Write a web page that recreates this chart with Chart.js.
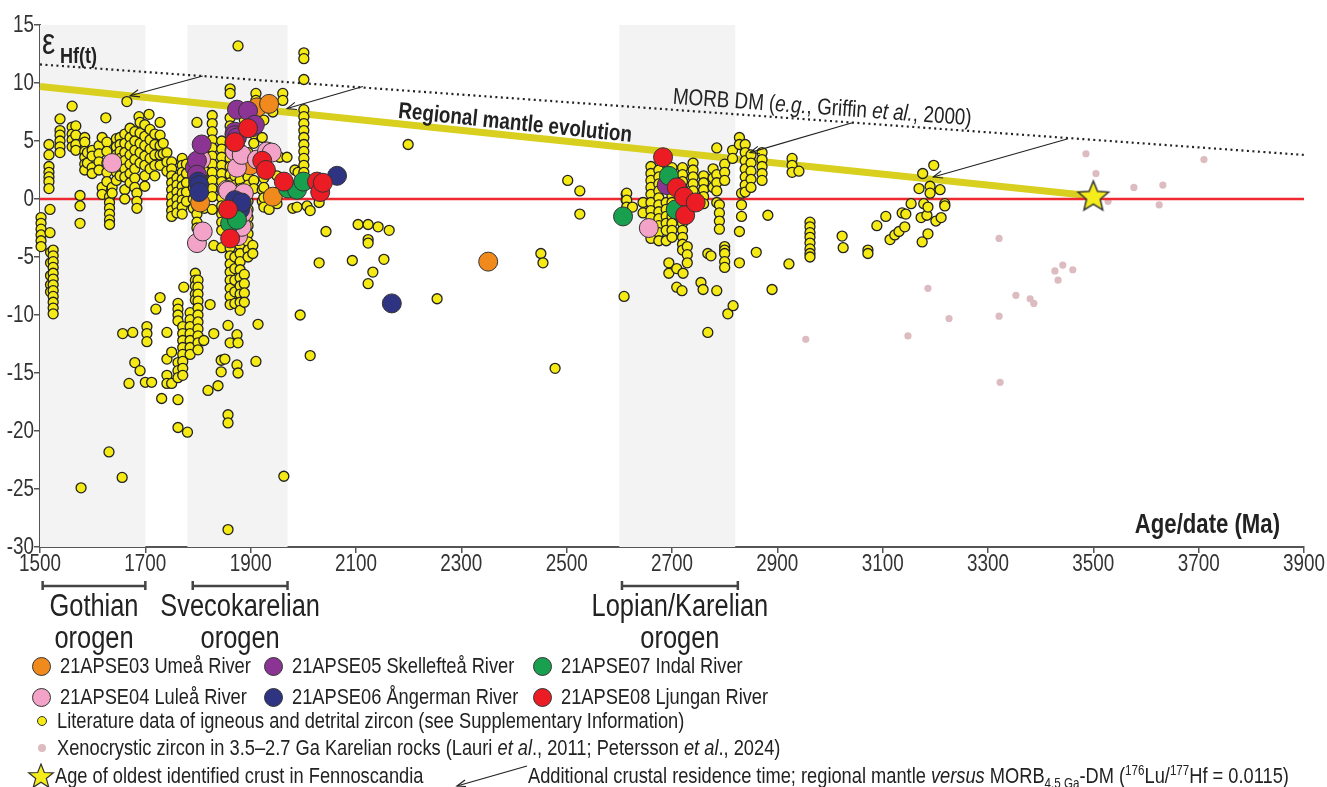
<!DOCTYPE html>
<html>
<head>
<meta charset="utf-8">
<script src="https://cdn.jsdelivr.net/npm/chart.js@4.4.1/dist/chart.umd.min.js"></script>
<style>
  html, body { margin: 0; padding: 0; background: #fff; }
  #wrap { position: relative; width: 1327px; height: 787px; overflow: hidden;
          font-family: "Liberation Sans", Arial, sans-serif; color: #222; }
  #chart { position: absolute; left: 0; top: 0; }
  .leg { position: absolute; font-size: 22px; line-height: 24px; white-space: nowrap;
         transform: scaleX(0.83); transform-origin: 0 50%; }
  .dot { position: absolute; border-radius: 50%; border: 1px solid #333; box-sizing: border-box; }
  sub, sup { font-size: 14px; line-height: 0; }
</style>
</head>
<body>
<div id="wrap">
  <canvas id="chart" width="1327" height="787"></canvas>

  <span class="dot" style="left:32px;top:657px;width:19px;height:19px;background:#f08a1c"></span>
  <div class="leg" style="left:60px;top:654px">21APSE03 Umeå River</div>
  <span class="dot" style="left:264px;top:657px;width:19px;height:19px;background:#8c3494"></span>
  <div class="leg" style="left:292px;top:654px">21APSE05 Skellefteå River</div>
  <span class="dot" style="left:533px;top:657px;width:19px;height:19px;background:#18a04f"></span>
  <div class="leg" style="left:561px;top:654px">21APSE07 Indal River</div>

  <span class="dot" style="left:32px;top:688px;width:19px;height:19px;background:#f4a3c8"></span>
  <div class="leg" style="left:60px;top:685px">21APSE04 Luleå River</div>
  <span class="dot" style="left:264px;top:688px;width:19px;height:19px;background:#2e3382"></span>
  <div class="leg" style="left:292px;top:685px">21APSE06 Ångerman River</div>
  <span class="dot" style="left:533px;top:688px;width:19px;height:19px;background:#ec1c24"></span>
  <div class="leg" style="left:561px;top:685px">21APSE08 Ljungan River</div>

  <span class="dot" style="left:37px;top:716px;width:10px;height:10px;background:#f5ea14"></span>
  <div class="leg" style="left:57px;top:709px">Literature data of igneous and detrital zircon (see Supplementary Information)</div>

  <span class="dot" style="left:38px;top:744px;width:8px;height:8px;background:#dcbcc0;border:none"></span>
  <div class="leg" style="left:57px;top:736px">Xenocrystic zircon in 3.5–2.7 Ga Karelian rocks (Lauri <i>et al</i>., 2011; Petersson <i>et al</i>., 2024)</div>

  <svg style="position:absolute;left:27px;top:763px" width="28" height="26" viewBox="0 0 28 26">
    <polygon points="14,1 17.3,9.5 26.4,9.8 19.3,15.5 21.8,24.3 14,19.2 6.2,24.3 8.7,15.5 1.6,9.8 10.7,9.5"
             fill="#f5ec1c" stroke="#333" stroke-width="1.2"/>
  </svg>
  <div class="leg" style="left:55px;top:764px">Age of oldest identified crust in Fennoscandia</div>
  <svg style="position:absolute;left:450px;top:760px" width="82" height="30">
    <line x1="77" y1="6" x2="7" y2="26" stroke="#222" stroke-width="1.2"/>
    <polyline points="15,20 7,26 16,26.5" fill="none" stroke="#222" stroke-width="1.2"/>
  </svg>
  <div class="leg" style="left:528px;top:764px">Additional crustal residence time; regional mantle <i>versus</i> MORB<sub>4.5 Ga</sub>-DM (<sup>176</sup>Lu/<sup>177</sup>Hf = 0.0115)</div>
</div>

<script>
const FONT = '"Liberation Sans", Arial, sans-serif';
const NARROW = 0.82;

// literature zircon data: each row is [age (Ma), eHf values read at that age...]
const literature = [
  [1502, -1.6, -2.1, -2.6, -3.1, -3.6, -4.1],
  [1517, 4.7, 3.8, 2.8, 2.3, 1.9, 1.5, 0.9],
  [1519, -0.9, -2.9],
  [1520, -4.6, -5.5, -6.6, -7.4, -8.0],
  [1525, -4.4, -4.9, -5.4, -5.9, -6.4, -6.9, -7.4, -7.9, -8.4, -8.9, -9.4, -9.9],
  [1538, 6.9, 5.9, 5.5, 5.0, 4.5, 4.0],
  [1561, 8.0, 6.2, 5.6, 5.1, 4.5],
  [1568, 6.3, 5.5, 4.7, 4.2],
  [1576, 0.3, -0.6, -2.1],
  [1578, -24.9],
  [1585, 5.3, 4.9, 4.1, 3.6, 3.0, 2.5],
  [1590, 4.0, 3.1],
  [1599, 4.2, 3.7, 2.7, 2.2],
  [1612, 4.6, 3.9, 3.2, 2.5],
  [1618, 5.3, 1.0, 0.4],
  [1625, 7.0],
  [1627, 4.9, 4.1, 3.1, 2.3, 1.5],
  [1631, -21.8],
  [1632, 0.2, -0.3, -0.8, -1.3, -1.8, -2.2],
  [1637, 1.0, 0.5],
  [1645, 5.2, 4.5, 3.8, 3.0, 2.3, 1.6],
  [1652, 5.3, 4.7, 4.1, 3.5, 2.9, 2.0],
  [1656, -24.0],
  [1657, -11.6],
  [1661, 5.6, 4.8, 4.0, 3.3, 2.6, 1.9, 0.8, 0.0],
  [1665, 8.4],
  [1669, -15.9],
  [1671, 6.1, 5.3, 4.6, 3.8, 3.0, 2.2, 1.4],
  [1676, -11.5],
  [1680, 5.8, 5.0, 4.2, 3.4, 2.6, 1.8, 1.0, -14.1],
  [1684, 0.5, -0.2, -0.8],
  [1688, 7.1],
  [1690, 6.6, 5.7, 4.8, 4.0, 3.1, -14.8],
  [1699, 6.4, 5.4, 4.6, 3.7, 2.9, 2.0, 1.1],
  [1700, -15.8],
  [1703, -11.0, -11.6, -12.3],
  [1707, 7.3],
  [1709, 6.0, 5.1, 4.3, 3.5, 2.6],
  [1712, -15.8],
  [1718, 5.6, 4.7, 3.8, 2.9, 2.0],
  [1720, -9.5],
  [1728, 6.6, 5.5, 4.6, 3.8, 2.9, -8.5],
  [1731, -17.2],
  [1734, 4.8, 3.9],
  [1741, 4.0, 3.2, 2.4, -11.5, -13.8, -15.2, -15.9],
  [1750, 3.2, 2.6, 2.0, 1.4, 0.8, 0.2, -0.4, -1.0, -1.5, -13.2, -15.9],
  [1760, 1.8, 1.2, 0.6, 0.0, -0.6, -1.2],
  [1762, -9.0, -9.5, -10.0, -10.5, -14.1, -14.8, -15.4, -17.3, -19.7],
  [1770, 3.5, 2.9, 2.3, 1.7, 1.1, 0.5, -0.1, -0.7, -1.3],
  [1771, -11.0, -11.6, -12.2, -12.8, -13.4, -14.0, -14.6, -15.2],
  [1773, -7.6],
  [1778, 3.0, 2.2, 1.4, 0.6, -0.2],
  [1780, -20.1],
  [1785, -9.8, -10.4, -11.0, -11.6, -12.2, -12.8, -13.4],
  [1791, 3.0, 2.0, 1.0, 0.0, -0.8],
  [1795, -6.4, -7.0, -7.5, -8.2, -8.7],
  [1798, 6.6, 3.6, 2.9, 2.2, 1.5, 0.8, 0.1, -0.6, -1.3, -2.0, -2.5],
  [1800, -7.0, -7.6, -8.2, -8.8, -9.4, -10.0, -10.6, -11.2, -11.8, -12.4, -13.0],
  [1811, -12.2],
  [1812, 4.0, 3.2, 2.4, 1.6, 0.8, 0.0, -0.8],
  [1819, -16.5],
  [1823, -9.1],
  [1827, 7.2, 6.5, 5.8, 5.1, 4.4, 3.7, 3.0, 2.3, 1.6, 0.9, 0.2, -0.9],
  [1830, -4.0, -11.6],
  [1838, -16.1],
  [1844, -13.9, -14.9],
  [1845, 5.0, 4.3, 3.6, 2.9, 2.2, 1.5, 0.8, 0.1, -0.6, -1.3, -2.0, -2.7, -4.2],
  [1851, -13.8],
  [1857, -10.9, -18.6, -19.3, -28.5],
  [1861, 9.5, 9.1, 7.0, 6.3, 5.6, 4.9, 4.2, 3.5, 2.8, 2.1, 1.4, 0.7, 0.0, -0.7, -1.4, -2.1, -2.8, -3.5,
         -4.2, -4.9, -5.6, -6.3, -7.0, -7.7, -8.4, -9.1, -12.4],
  [1870, 8.0, 2.0, 1.2, 0.4, -0.4, -5.0, -6.0, -7.0, -8.0, -9.0],
  [1874, -11.7, -14.3],
  [1876, 13.2, -12.4, -15.0],
  [1880, 5.8, 5.1, 4.4, 3.7, 3.0, 2.3, 1.6, 0.9, 0.2, -0.5, -1.2, -1.9, -2.6, -3.3, -4.0, -4.7, -5.4,
         -6.1, -6.8, -7.5, -8.2, -8.9, -9.6],
  [1888, 6.8, 1.0, 0.2, -0.6, -1.4, -2.2, -3.0, -6.5, -7.3, -8.1, -8.9],
  [1895, 4.0, 3.3, 2.6, 1.9, 1.2, 0.5, -0.2, -0.9, -1.6, -2.3, -3.0, -3.7, -4.4, -5.0],
  [1904, -4.0, -4.7],
  [1906, 5.6, 4.8, 1.6, 0.9],
  [1910, 9.1, 8.5, -14.0],
  [1914, -10.8],
  [1922, 5.3, 0.8, -0.2],
  [1925, 6.8, 1.8, 1.0, 0.1, -0.7],
  [1935, 0.2, -0.9],
  [1942, 7.5],
  [1950, 2.0, 0.6, -0.4],
  [1955, 3.6],
  [1961, 9.1, 8.5],
  [1963, -23.9],
  [1969, 3.6],
  [1980, -0.8],
  [1984, 2.5],
  [1988, -0.7],
  [1990, 2.3],
  [1994, -10.0],
  [2001, 12.6, 12.1, 10.3, 7.7, 7.1, 6.5, 5.9, 5.3, 4.7, 4.1, 3.5, 2.9, 2.3],
  [2007, -0.6],
  [2013, -1.0, -13.5],
  [2030, -0.3, -5.5],
  [2043, -2.8],
  [2093, -5.3],
  [2104, -2.2],
  [2123, -2.2, -3.5, -3.8, -7.3],
  [2132, -6.3],
  [2142, -2.4],
  [2153, -5.2],
  [2163, -2.7],
  [2199, 4.7],
  [2254, -8.6],
  [2451, -4.7],
  [2455, -5.5],
  [2478, -14.6],
  [2502, 1.6],
  [2525, 0.7, -1.3],
  [2609, -8.4],
  [2613, 0.4, -0.1],
  [2614, 0.5, -0.1, -0.7, -1.4],
  [2625, -0.7],
  [2645, -0.3, -1.2],
  [2660, 2.8, 2.2, 1.6, 1.0, 0.4, -0.3, -1.0, -1.6, -2.2, -2.8, -3.4],
  [2675, 2.5, 1.9, 1.3, 0.7, 0.1, -0.5, -1.1, -1.7, -2.3, -2.9, -3.6],
  [2689, 1.5, 0.9, -0.3, -0.9, -1.5, -2.1, -2.7, -3.6],
  [2694, -5.5, -6.4],
  [2700, 2.7, 2.1, 1.5, 0.9, 0.3, -0.3, -0.9, -1.5, -2.1, -2.7, -3.3],
  [2709, -6.0, -7.6],
  [2719, -7.9],
  [2720, 2.7, 2.1, 1.5, 0.9, 0.3, -0.3, -0.9, -1.5, -2.1, -2.7, -3.3, -3.9, -4.4],
  [2721, -6.4],
  [2729, -4.1, -4.8, -5.5],
  [2740, 3.1, 2.5, 1.9, 1.3, 0.7],
  [2755, -7.2],
  [2759, -7.8],
  [2760, 2.0, 1.4, 0.8, 0.2, -0.4],
  [2768, -4.7, -11.5],
  [2774, -4.9],
  [2778, 2.6, 1.8, 1.0],
  [2785, 4.4, 2.1, 1.4, 0.7, -0.3, -7.9],
  [2790, -0.5, -1.2, -1.9, -2.6],
  [2800, 3.0, 2.3, 1.6, -4.1, -4.4, -4.7, -5.4, -5.9],
  [2806, -9.9],
  [2815, 4.2, 3.5],
  [2816, -9.2],
  [2828, 5.3, 4.7, -2.8, -5.5],
  [2832, 0.5, -0.5, -1.5],
  [2839, 4.7, 4.0, 3.3, 2.6, 1.9, 1.2, 0.6],
  [2850, 3.8, 3.1, 2.4, 1.7, 1.0],
  [2860, -4.6],
  [2871, 4.0, 3.4, 2.8, 2.2, 1.6],
  [2882, -1.4],
  [2890, -7.8],
  [2922, -5.6],
  [2928, 3.5, 2.9, 2.3],
  [2941, 2.4],
  [2962, -2.0, -2.4, -2.9, -3.3, -3.8, -4.3, -4.7, -5.0],
  [3023, -3.2],
  [3025, -4.2],
  [3072, -4.4, -4.7],
  [3089, -2.3],
  [3106, -1.5],
  [3114, -3.5],
  [3123, -3.1],
  [3131, -2.8],
  [3137, -1.2],
  [3142, -2.4],
  [3144, -1.3],
  [3154, -0.4],
  [3169, 0.9],
  [3173, -1.6],
  [3175, -3.7],
  [3176, 2.2],
  [3178, -0.4],
  [3184, -1.4],
  [3186, -0.7, -3.0],
  [3190, 1.1, 0.5],
  [3197, 2.9],
  [3201, -1.9],
  [3209, 0.8],
  [3211, -1.6],
  [3218, -0.4, -0.6]
];

const xenocrystic = [
  [2954, -12.1], [3148, -11.8], [3186, -7.7], [3226, -10.3], [3321, -3.4], [3321, -10.1], [3323, -15.8],
  [3353, -8.3], [3380, -8.6], [3387, -9.0], [3427, -6.2], [3433, -7.0], [3442, -5.7], [3461, -6.1],
  [3486, 3.9], [3505, 2.2], [3528, -0.2], [3577, 1.0], [3625, -0.5], [3632, 1.2], [3710, 3.4]
];

const umea = [[1804, -0.3], [1899, 2.9], [1912, 7.9], [1935, 8.2], [1942, 0.2], [2351, -5.4]];
const lulea = [[1637, 3.1], [1798, -3.8], [1806, 3.4], [1809, -2.8], [1855, 0.8], [1857, 0.7], [1870, 4.1],
  [1874, 2.7], [1876, -3.2], [1883, 3.8], [1883, -2.4], [1885, -1.2], [1887, 0.5], [1912, 3.4],
  [1931, 4.1], [1940, 4.0], [2656, -2.5]];
const skelleftea = [[1794, 2.7], [1798, 3.3], [1798, 2.1], [1807, 4.7], [1870, 5.8], [1870, 5.5], [1874, 7.7],
  [1874, 5.3], [1895, 7.6], [1904, 6.2], [1908, 6.4], [2690, 1.2]];
const angerman = [[1800, 1.5], [1802, 1.2], [1802, 0.6], [1870, -0.1], [1880, -0.9], [1883, -0.3],
  [2064, 2.0], [2168, -9.0]];
const indal = [[1861, -2.1], [1874, -1.8], [1971, 0.9], [1988, 0.8], [2000, 1.5], [2607, -1.5],
  [2694, 2.0], [2707, -0.9]];
const ljungan = [[1857, -0.9], [1861, -3.4], [1870, 4.9], [1895, 6.1], [1922, 3.3], [1929, 2.5], [1963, 1.5],
  [2026, 1.5], [2032, 0.6], [2037, 1.4], [2683, 3.6], [2709, 1.0], [2723, 0.2], [2725, -1.4], [2745, -0.3]];

const oldestCrust = [[3500, 0.3]];
const regionalMantle = [[1500, 9.7], [3490, 0.3]];
const morbDM = [[1500, 11.6], [3900, 3.8]];
const zeroLine = [[1500, 0], [3900, 0]];

const orogenBands = [[1500, 1700], [1780, 1970], [2600, 2820]];
const orogens = [
  { name: 'Gothian', from: 1505, to: 1700 },
  { name: 'Svecokarelian', from: 1790, to: 1970 },
  { name: 'Lopian/Karelian', from: 2605, to: 2825 }
];
// [tail on MORB DM, head on regional mantle], each [age, eHf]
const residenceArrows = [
  [[1809, 10.6], [1671, 8.9]],
  [[2113, 9.7], [1969, 7.8]],
  [[3044, 6.6], [2848, 4.0]],
  [[3452, 5.2], [3196, 1.9]]
];

const xTicks = { min: 1500, max: 3900, step: 200 };
const yTicks = { min: -30, max: 15, step: 5 };

const pts = (rows) => rows.map(([x, y]) => ({ x, y }));
const columns = (rows) => rows.flatMap(([age, ...vals]) => vals.map((v) => ({ x: age, y: v })));

// text squeezed sideways, like a narrow face
function narrowText(ctx, text, x, y, font, align) {
  ctx.save();
  ctx.font = font;
  ctx.textAlign = align || 'left';
  ctx.translate(x, y);
  ctx.scale(NARROW, 1);
  ctx.fillText(text, 0, 0);
  ctx.restore();
}

function makeStar(r) {
  const c = document.createElement('canvas');
  const s = Math.ceil(r * 2 + 4);
  c.width = s; c.height = s;
  const g = c.getContext('2d');
  g.beginPath();
  for (let i = 0; i < 10; i++) {
    const a = -Math.PI / 2 + i * Math.PI / 5;
    const rr = i % 2 ? r * 0.45 : r;
    g.lineTo(s / 2 + rr * Math.cos(a), s / 2 + 1.5 + rr * Math.sin(a));
  }
  g.closePath();
  g.fillStyle = '#f5ec1c';
  g.fill();
  g.lineWidth = 1.5;
  g.strokeStyle = '#333';
  g.stroke();
  return c;
}

const sample = (label, rows, color, order) => ({
  label, data: pts(rows), backgroundColor: color, borderColor: '#333', borderWidth: 1,
  pointRadius: 9.5, order, clip: false
});
const line = (label, rows, color, width, dash, order) => ({
  label, data: pts(rows), showLine: true, borderColor: color, borderWidth: width, borderDash: dash,
  pointRadius: 0, order, clip: false
});

const annotations = {
  id: 'annotations',
  beforeDatasetsDraw(chart) {
    const { ctx, chartArea, scales: { x } } = chart;
    ctx.save();
    ctx.fillStyle = '#f3f3f3';
    for (const [a, b] of orogenBands) {
      ctx.fillRect(x.getPixelForValue(a), chartArea.top, x.getPixelForValue(b) - x.getPixelForValue(a),
        chartArea.bottom - chartArea.top);
    }
    ctx.restore();
  },
  afterDatasetsDraw(chart) {
    const { ctx, scales: { x, y } } = chart;
    ctx.save();
    ctx.strokeStyle = '#222';
    ctx.lineWidth = 1.1;
    for (const [[a1, v1], [a2, v2]] of residenceArrows) {
      const x1 = x.getPixelForValue(a1), y1 = y.getPixelForValue(v1);
      const x2 = x.getPixelForValue(a2), y2 = y.getPixelForValue(v2);
      ctx.beginPath(); ctx.moveTo(x1, y1); ctx.lineTo(x2, y2); ctx.stroke();
      const ang = Math.atan2(y2 - y1, x2 - x1), L = 10, w = 0.38;
      ctx.beginPath();
      ctx.moveTo(x2 - L * Math.cos(ang - w), y2 - L * Math.sin(ang - w));
      ctx.lineTo(x2, y2);
      ctx.lineTo(x2 - L * Math.cos(ang + w), y2 - L * Math.sin(ang + w));
      ctx.stroke();
    }
    ctx.fillStyle = '#222';
    ctx.textBaseline = 'alphabetic';

    // label along MORB DM line
    const [[ma, mv], [mb, mw]] = morbDM;
    const mAng = Math.atan2(y.getPixelForValue(mw) - y.getPixelForValue(mv), x.getPixelForValue(mb) - x.getPixelForValue(ma));
    const mAge = 2700;
    const mVal = mv + (mw - mv) * (mAge - ma) / (mb - ma);
    ctx.save();
    ctx.translate(x.getPixelForValue(mAge), y.getPixelForValue(mVal));
    ctx.rotate(mAng);
    ctx.scale(NARROW, 1);
    let cx = 0;
    for (const [t, it] of [['MORB DM (', false], ['e.g.', true], [', Griffin ', false], ['et al.', true], [', 2000)', false]]) {
      ctx.font = `${it ? 'italic' : 'normal'} normal 23px ${FONT}`;
      ctx.fillText(t, cx, -6);
      cx += ctx.measureText(t).width;
    }
    ctx.restore();

    // label along regional mantle line
    const [[ra, rv], [rb, rw]] = regionalMantle;
    const rAng = Math.atan2(y.getPixelForValue(rw) - y.getPixelForValue(rv), x.getPixelForValue(rb) - x.getPixelForValue(ra));
    const rAge = 2178;
    const rVal = rv + (rw - rv) * (rAge - ra) / (rb - ra);
    ctx.save();
    ctx.translate(x.getPixelForValue(rAge), y.getPixelForValue(rVal));
    ctx.rotate(rAng);
    ctx.scale(NARROW, 1);
    ctx.font = `normal bold 23px ${FONT}`;
    ctx.fillText('Regional mantle evolution', 0, -6);
    ctx.restore();
    ctx.restore();
  },
  afterDraw(chart) {
    const { ctx, chartArea, scales: { x, y } } = chart;
    ctx.save();
    ctx.fillStyle = '#333';
    // tick labels
    const tickFont = `normal normal 23px ${FONT}`;
    ctx.textBaseline = 'alphabetic';
    for (const t of x.ticks) {
      narrowText(ctx, String(t.value), x.getPixelForValue(t.value), chartArea.bottom + 24, tickFont, 'center');
    }
    ctx.textBaseline = 'middle';
    for (const t of y.ticks) {
      narrowText(ctx, String(t.value), chartArea.left - 6, y.getPixelForValue(t.value) + 1, tickFont, 'right');
    }
    ctx.textBaseline = 'alphabetic';
    ctx.fillStyle = '#222';
    // y title
    narrowText(ctx, 'ε', chartArea.left + 2, chartArea.top + 29, `normal normal 36px ${FONT}`);
    narrowText(ctx, 'Hf(t)', chartArea.left + 20, chartArea.top + 38, `normal bold 22px ${FONT}`);
    // x title
    narrowText(ctx, 'Age/date (Ma)', chartArea.right - 24, chartArea.bottom - 14, `normal bold 27px ${FONT}`, 'right');
    // orogen bars and names
    ctx.strokeStyle = '#444';
    ctx.lineWidth = 2.5;
    const by = chartArea.bottom + 39;
    for (const o of orogens) {
      const x1 = x.getPixelForValue(o.from), x2 = x.getPixelForValue(o.to);
      ctx.beginPath();
      ctx.moveTo(x1, by); ctx.lineTo(x2, by);
      ctx.moveTo(x1, by - 5); ctx.lineTo(x1, by + 4);
      ctx.moveTo(x2, by - 5); ctx.lineTo(x2, by + 4);
      ctx.stroke();
      const c = (x1 + x2) / 2;
      narrowText(ctx, o.name, c, by + 30, `normal normal 31px ${FONT}`, 'center');
      narrowText(ctx, 'orogen', c, by + 62, `normal normal 31px ${FONT}`, 'center');
    }
    ctx.restore();
  }
};

const axisGrid = { drawOnChartArea: false, drawTicks: true, tickLength: 6, color: '#555', lineWidth: 1.5 };

new Chart(document.getElementById('chart'), {
  type: 'scatter',
  data: {
    datasets: [
      sample('21APSE08 Ljungan River', ljungan, '#ec1c24', 1),
      sample('21APSE07 Indal River', indal, '#18a04f', 2),
      sample('21APSE06 Ångerman River', angerman, '#2e3382', 3),
      sample('21APSE05 Skellefteå River', skelleftea, '#8c3494', 4),
      sample('21APSE04 Luleå River', lulea, '#f4a3c8', 5),
      sample('21APSE03 Umeå River', umea, '#f08a1c', 6),
      {
        label: 'Age of oldest identified crust in Fennoscandia', data: pts(oldestCrust),
        pointStyle: makeStar(16), order: 0, clip: false
      },
      {
        label: 'Literature data of igneous and detrital zircon', data: columns(literature),
        backgroundColor: '#f5ea14', borderColor: '#222', borderWidth: 1.3, pointRadius: 5, order: 7, clip: false
      },
      line('Zero', zeroLine, '#ee2a30', 2.5, [], 8),
      line('Regional mantle evolution', regionalMantle, '#d8cf1e', 7, [], 9),
      line('MORB DM', morbDM, '#222', 2.2, [2, 3.5], 10),
      {
        label: 'Xenocrystic zircon', data: pts(xenocrystic),
        backgroundColor: '#dcbcc0', borderColor: '#dcbcc0', borderWidth: 0, pointRadius: 3.6, order: 11
      }
    ]
  },
  options: {
    responsive: false,
    animation: false,
    layout: { padding: { top: 25, right: 23, bottom: 208, left: 0 } },
    plugins: { legend: { display: false }, tooltip: { enabled: false } },
    scales: {
      x: {
        type: 'linear', min: xTicks.min, max: xTicks.max,
        ticks: { stepSize: xTicks.step, display: false },
        grid: axisGrid,
        border: { color: '#555', width: 2 },
        afterFit(s) { s.height = 32; }
      },
      y: {
        type: 'linear', min: yTicks.min, max: yTicks.max,
        ticks: { stepSize: yTicks.step, display: false },
        grid: axisGrid,
        border: { color: '#555', width: 2 },
        afterFit(s) { s.width = 40; }
      }
    }
  },
  plugins: [annotations]
});
</script>
</body>
</html>
